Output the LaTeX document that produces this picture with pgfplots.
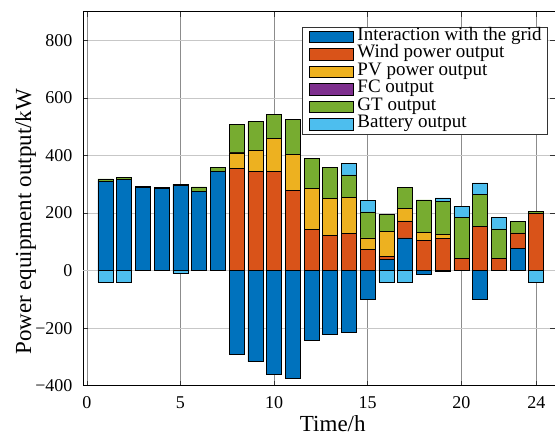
\documentclass[border=0pt]{standalone}
\usepackage{pgfplots}
\pgfplotsset{compat=1.18}
\usepackage{pgfplotstable}
\usepackage{fontspec}
\setmainfont{Liberation Serif}
\definecolor{cblue}{rgb}{0,0.447,0.741}
\definecolor{corange}{rgb}{0.85,0.325,0.098}
\definecolor{cyellow}{rgb}{0.929,0.694,0.125}
\definecolor{cpurple}{rgb}{0.494,0.184,0.556}
\definecolor{cgreen}{rgb}{0.466,0.674,0.188}
\definecolor{ccyan}{rgb}{0.301,0.745,0.933}
\pgfplotstableread{
h  gp  wd  pv  fc gt  bp gn   bn
1  311 0   0   0  8   0  0    -40
2  316 0   0   0  8   0  0    -40
3  289 0   0   0  5   0  0    0
4  285 0   0   0  3   0  0    0
5  297 0   0   0  4   0  0    -10
6  275 0   0   0  16  0  0    0
7  346 0   0   0  13  0  0    0
8  0   355 54  2  96  0  -291 0
9  0   344 74  0  100 0  -316 0
10 0   344 116 0  83  0  -361 0
11 0   280 123 0  122 0  -376 0
12 0   143 142 0  106 0  -243 0
13 0   122 130 0  107 0  -223 0
14 0   129 125 0  79  40 -216 0
15 0   73  41  0  90  40 -101 0
16 38  12  86  0  59  0  0    -41
17 114 59  43  0  73  0  0    -41
18 0   106 26  0  114 0  -13  0
19 0   111 14  0  116 12 -4   0
20 0   42  0   0  142 40 0    0
21 0   153 0   0  112 40 -98  0
22 0   42  0   0  103 41 0    0
23 76  55  0   0  41  0  0    0
24 0   199 0   0  8   0  0    -41
}\data
\pgfplotsset{
  common/.style={
    width=471.8pt, height=374pt, scale only axis,
    xmin=-0.19, xmax=25, ymin=-400, ymax=900,
    ybar stacked, bar width=0.8,
    every axis plot/.append style={draw=black, line width=0.6pt},
  }
}
\begin{document}
\begin{tikzpicture}
\begin{axis}[common,
  /pgf/number format/assume math mode=true,
  axis line style={black, line width=0.8pt},
  xtick={0,5,10,15,20,24},
  xticklabels={0,5,10,15,20,24},
  ytick={-400,-200,0,200,400,600,800},
  yticklabels={−400,−200,0,200,400,600,800},
  tick align=inside, major tick length=5pt,
  tick style={black!80, line width=0.5pt},
  grid=major, grid style={black!30, line width=0.6pt},
  x grid style={black!45, line width=0.5pt},
  y grid style={black!22, line width=0.8pt},
  extra y ticks={0}, extra y tick labels={},
  extra y tick style={grid style={black, line width=0.8pt}, major tick length=0pt},
  tick label style={font=\fontsize{18}{18}\selectfont},
  yticklabel style={inner sep=0pt, xshift=-10.5pt},
  xticklabel style={inner sep=0pt, yshift=-11pt},
  xlabel={Time/h},
  ylabel={Power equipment output/kW},
  label style={font=\fontsize{23}{23}\selectfont},
  xlabel style={at={(axis description cs:0.529,-0.078)}, anchor=north, inner sep=0pt},
  ylabel style={at={(axis description cs:-0.1446,0.438)}, anchor=north, inner sep=0pt},
  every axis plot post/.append style={legend image code/.code={
      \draw[##1, line width=0.8pt] (0pt,-5.7pt) rectangle (44pt,5.7pt);
      \path (48pt,0pt);}},
  legend cell align=left,
  legend style={at={(0.985,0.960)}, anchor=north east,
    draw=black!80, line width=0.6pt, fill=white,
    font=\fontsize{19}{17.5}\selectfont,
    inner xsep=6pt, inner ysep=1pt, row sep=0pt, column sep=0pt,
    nodes={inner sep=0pt, text height=12.5pt, text depth=5pt, anchor=west}},
]
\addplot[fill=cblue] table[x=h,y=gp] {\data};
\addlegendentry{Interaction with the grid}
\addplot[fill=corange] table[x=h,y=wd] {\data};
\addlegendentry{Wind power output}
\addplot[fill=cyellow] table[x=h,y=pv] {\data};
\addlegendentry{PV power output}
\addplot[fill=cpurple] table[x=h,y=fc] {\data};
\addlegendentry{FC output}
\addplot[fill=cgreen] table[x=h,y=gt] {\data};
\addlegendentry{GT output}
\addplot[fill=ccyan] table[x=h,y=bp] {\data};
\addlegendentry{Battery output}
\coordinate (bl) at (rel axis cs:0,0);
\coordinate (tr) at (rel axis cs:1,1);
\end{axis}
\begin{axis}[common, hide axis]
\addplot[fill=cblue] table[x=h,y=gn] {\data};
\addplot[fill=ccyan] table[x=h,y=bn] {\data};
\end{axis}
\pgfresetboundingbox
\path[use as bounding box] ([xshift=-83.2pt,yshift=-53.3pt]bl) rectangle ([yshift=11.7pt]tr);
\end{tikzpicture}
\end{document}
